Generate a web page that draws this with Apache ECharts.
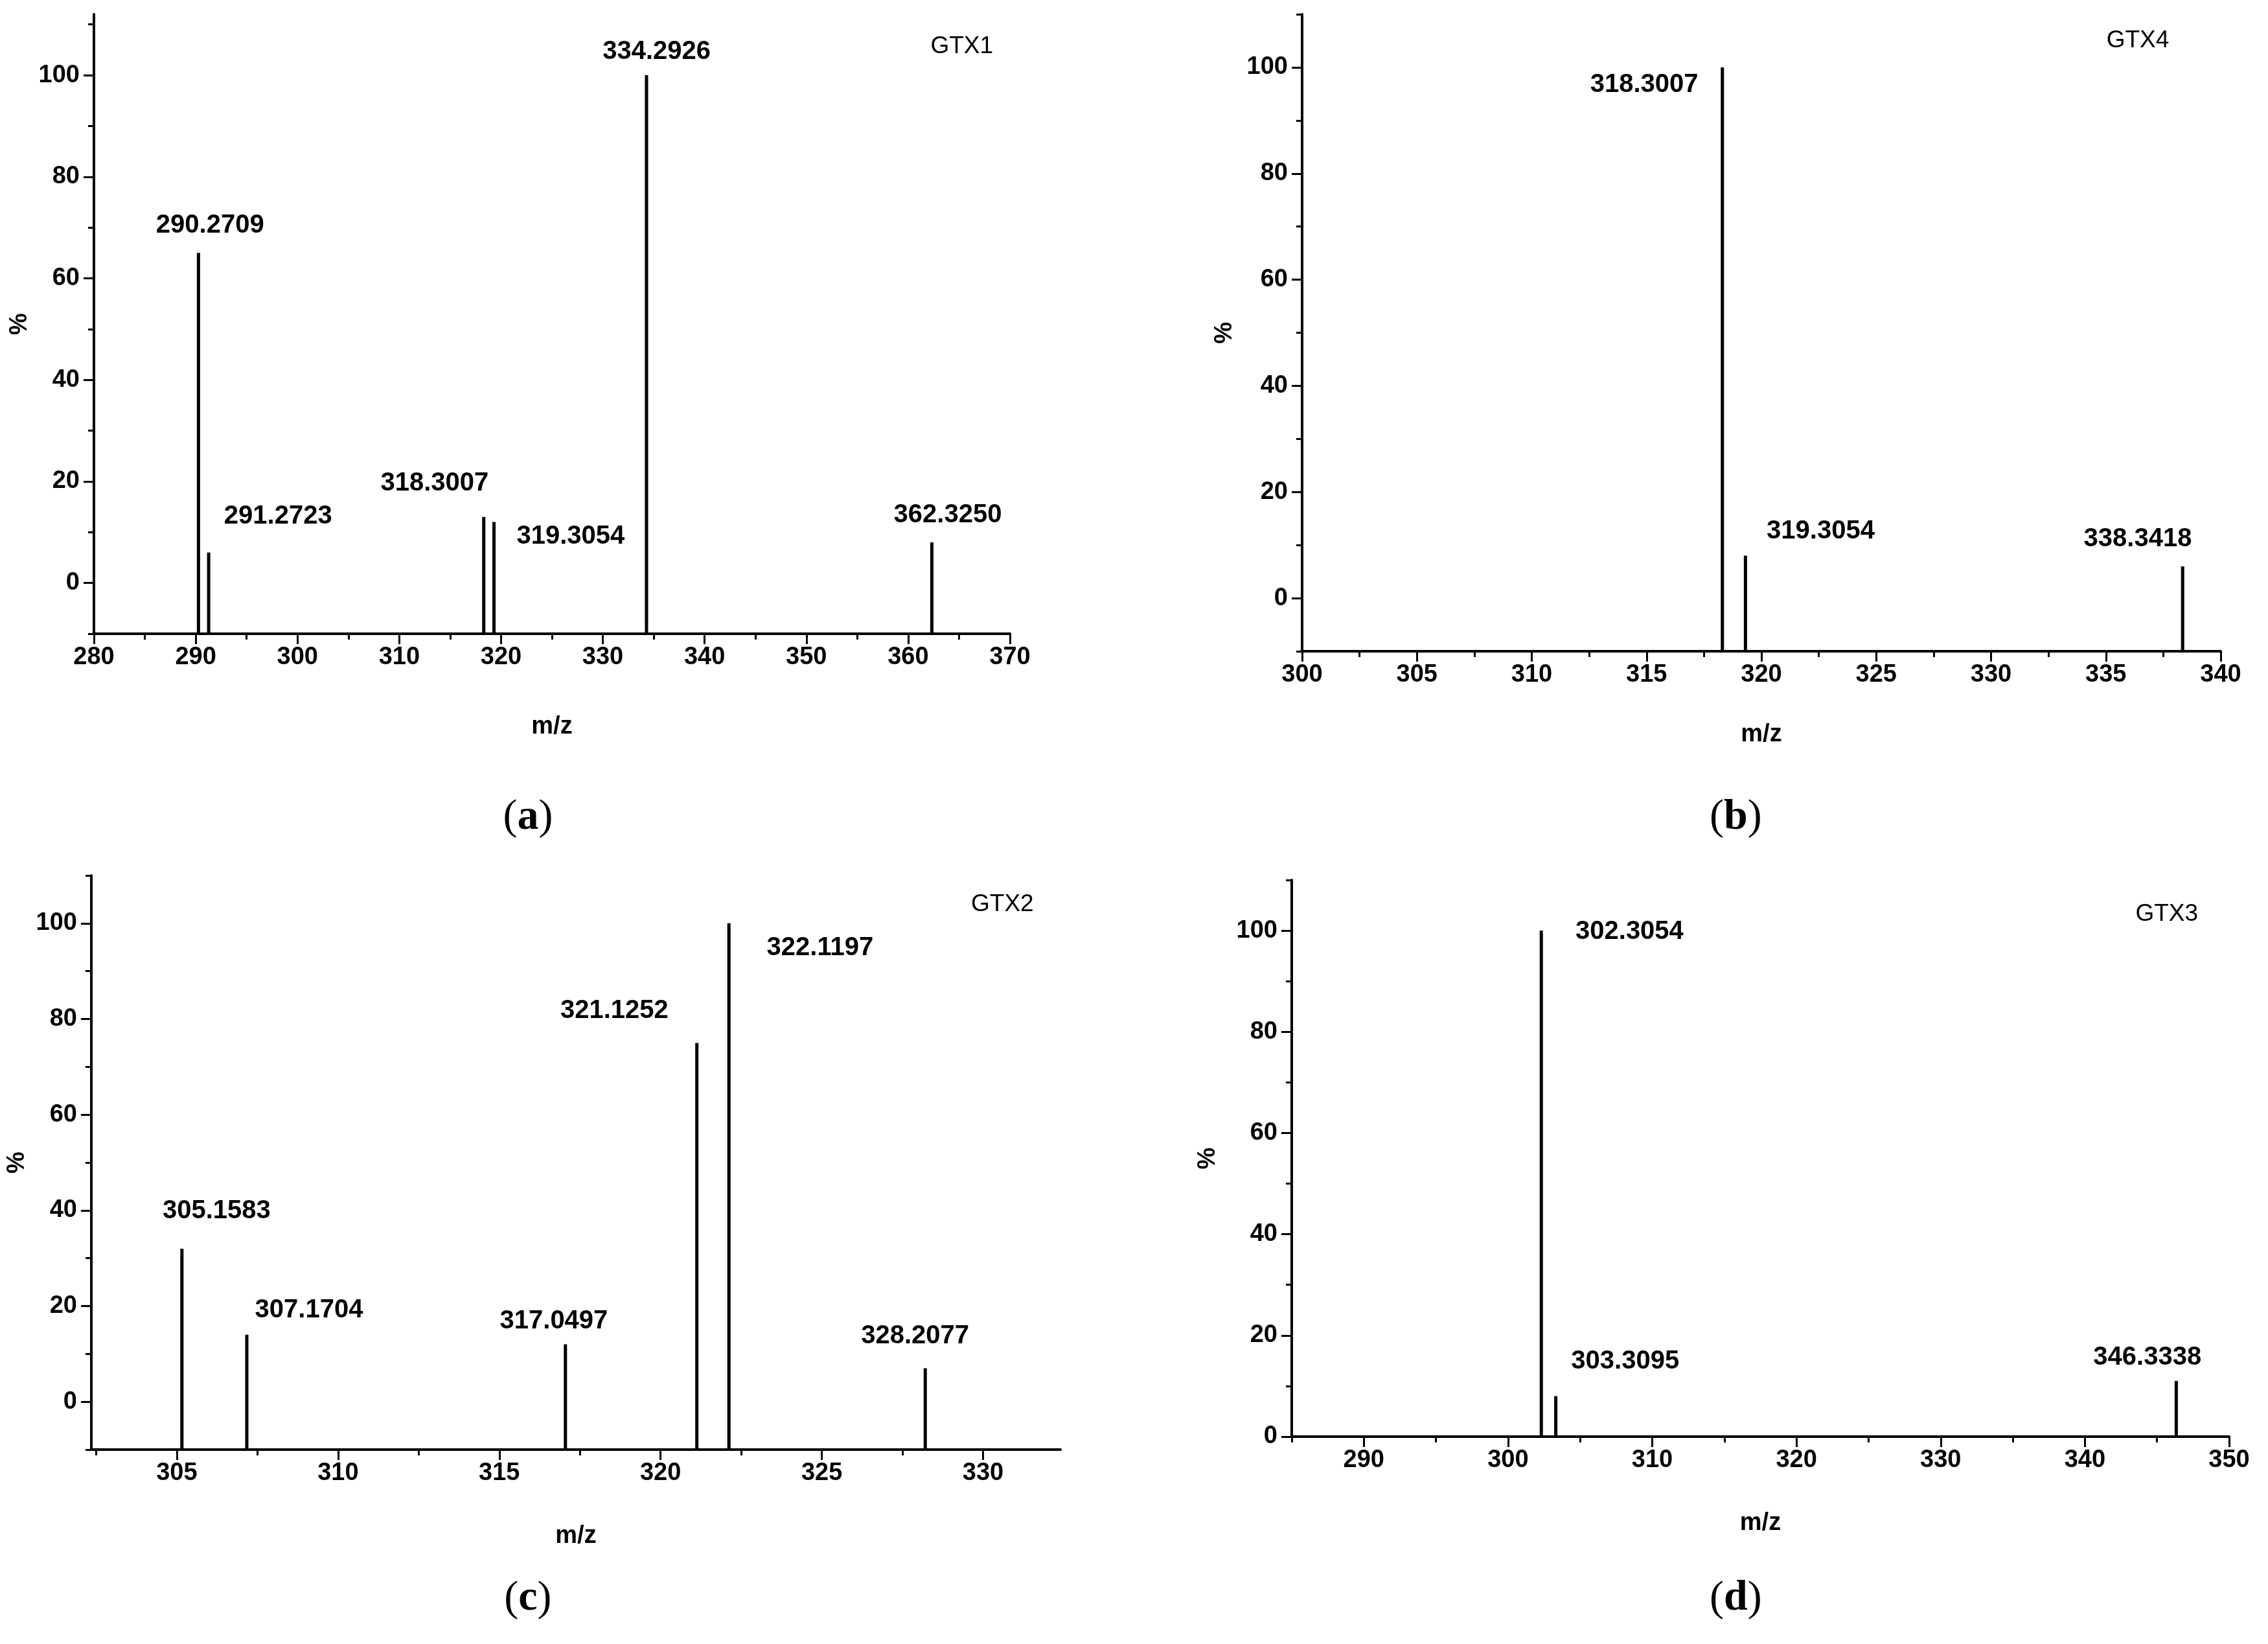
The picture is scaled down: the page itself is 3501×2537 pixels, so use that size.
<!DOCTYPE html>
<html><head><meta charset="utf-8">
<script src="https://cdn.jsdelivr.net/npm/echarts@6/dist/echarts.min.js"></script>
<style>html,body{margin:0;padding:0;background:#fff}#c{width:3501px;height:2537px}</style>
</head><body><div id="c"></div>
<script>
// ---- data ----
const mzA = [290.2709, 291.2723, 318.3007, 319.3054, 334.2926, 362.3250];
const intA = [65, 6, 13, 12, 100, 8];
const mzB = [318.3007, 319.3054, 338.3418];
const intB = [100, 8, 6];
const mzC = [305.1583, 307.1704, 317.0497, 321.1252, 322.1197, 328.2077];
const intC = [32, 14, 12, 75, 100, 7];
const mzD = [302.3054, 303.3095, 346.3338];
const intD = [100, 8, 11];
const titles = ['GTX1', 'GTX4', 'GTX2', 'GTX3'];
const captions = ['a', 'b', 'c', 'd'];
const xTicksA = [280, 290, 300, 310, 320, 330, 340, 350, 360, 370];
const xTicksB = [300, 305, 310, 315, 320, 325, 330, 335, 340];
const xTicksC = [305, 310, 315, 320, 325, 330];
const xTicksD = [290, 300, 310, 320, 330, 340, 350];
const yTicks = [0, 20, 40, 60, 80, 100];

// ---- styling / layout ----
const S = 3501 / 1568;
const FONT = 'Liberation Sans, Arial, sans-serif';
const labelOffsets = [
  [[8,-19],[48,-25],[-34,-23],[53,10],[7,-16],[11,-19]],
  [[-54,12],[52,-17],[-31,-19]],
  [[24,-26],[43,-17],[-8,-16],[-57,-22],[63,17],[-7,-22]],
  [[61,1],[48,-24],[-20,-16]]
];
const panels = [
  {grid:{left:145,top:22,width:1414,height:956}, x:{min:280,max:370,major:xTicksA,step:5}, y:{min:-10,max:112}, mz:mzA, it:intA, title:[665,32], cap:[365,565], ng:[125,95]},
  {grid:{left:2010,top:22,width:1418,height:983}, x:{min:300,max:340,major:xTicksB,step:2.5}, y:{min:-10,max:110}, mz:mzB, it:intB, title:[1478,28], cap:[1200,565], ng:[110,100]},
  {grid:{left:141,top:1351,width:1496,height:886}, x:{min:302.35,max:332.4,major:xTicksC,step:2.5}, y:{min:-10,max:110}, mz:mzC, it:intC, title:[693,625], cap:[365,1105], ng:[115,95]},
  {grid:{left:1994,top:1358,width:1447,height:859}, x:{min:285,max:350,major:xTicksD,step:5}, y:{min:0,max:110}, mz:mzD, it:intD, title:[1498,632], cap:[1200,1105], ng:[115,110]}
];

function minorVals(min, max, major, step) {
  const out = [];
  for (let v = major[0] - step; v >= min - 1e-9; v -= 2 * step) out.push(+v.toFixed(4));
  for (let v = major[0] + step; v <= max + 1e-9; v += 2 * step) out.push(+v.toFixed(4));
  return out;
}

const grids = [], xAxis = [], yAxis = [], series = [], graphic = [];
const lineStyle = {color:'#000', width:4};
panels.forEach((p, i) => {
  grids.push(p.grid);
  const xMinor = minorVals(p.x.min, p.x.max, p.x.major, p.x.step);
  const yMinor = minorVals(p.y.min, p.y.max, yTicks, 10);
  xAxis.push({type:'value', gridIndex:i, min:p.x.min, max:p.x.max, position:'bottom',
    name:'m/z', nameLocation:'middle', nameGap:p.ng[0],
    nameTextStyle:{fontFamily:FONT, fontWeight:'bold', fontSize:38, color:'#000'},
    axisLine:{show:true, onZero:false, lineStyle},
    axisTick:{show:true, customValues:p.x.major, length:16, lineStyle:{color:'#000', width:3}},
    axisLabel:{customValues:p.x.major, fontFamily:FONT, fontWeight:'bold', fontSize:38, color:'#000', margin:18},
    splitLine:{show:false}});
  xAxis.push({type:'value', gridIndex:i, min:p.x.min, max:p.x.max, position:'bottom',
    axisLine:{show:false, onZero:false},
    axisTick:{show:true, customValues:xMinor, length:9, lineStyle:{color:'#000', width:3}},
    axisLabel:{show:false}, splitLine:{show:false}});
  yAxis.push({type:'value', gridIndex:i, min:p.y.min, max:p.y.max, position:'left',
    name:'%', nameLocation:'middle', nameGap:p.ng[1],
    nameTextStyle:{fontFamily:FONT, fontWeight:'bold', fontSize:38, color:'#000'},
    axisLine:{show:true, onZero:false, lineStyle},
    axisTick:{show:true, customValues:yTicks, length:16, lineStyle:{color:'#000', width:3}},
    axisLabel:{customValues:yTicks, fontFamily:FONT, fontWeight:'bold', fontSize:38, color:'#000', margin:22},
    splitLine:{show:false}});
  yAxis.push({type:'value', gridIndex:i, min:p.y.min, max:p.y.max, position:'left',
    axisLine:{show:false, onZero:false},
    axisTick:{show:true, customValues:yMinor, length:9, lineStyle:{color:'#000', width:3}},
    axisLabel:{show:false}, splitLine:{show:false}});
  const ymin = p.y.min;
  series.push({type:'custom', xAxisIndex:2*i, yAxisIndex:2*i, clip:false,
    data:p.mz.map((m, k) => [m, p.it[k], k]),
    encode:{x:0, y:1},
    renderItem:(params, api) => {
      const x = api.value(0), y = api.value(1), k = api.value(2);
      const p0 = api.coord([x, ymin]), p1 = api.coord([x, y]);
      const off = labelOffsets[i][k];
      return {type:'group', children:[
        {type:'line', shape:{x1:p0[0], y1:p0[1], x2:p1[0], y2:p1[1]}, style:{stroke:'#000', lineWidth:5}},
        {type:'text', x:p1[0] + off[0] * S, y:p1[1] + off[1] * S,
          style:{text:p.mz[k].toFixed(4), fill:'#000', font:'bold 40px ' + FONT, align:'center', verticalAlign:'middle'}}
      ]};
    }});
  graphic.push({type:'text', x:p.title[0] * S, y:p.title[1] * S,
    style:{text:titles[i], fill:'#000', font:'37px ' + FONT, align:'center', verticalAlign:'middle'}});
  graphic.push({type:'text', x:p.cap[0] * S, y:p.cap[1] * S,
    style:{text:'{n|(}{b|' + captions[i] + '}{n|)}', align:'center', verticalAlign:'middle',
      rich:{n:{font:'66px Liberation Serif, serif', fill:'#000'}, b:{font:'bold 66px Liberation Serif, serif', fill:'#000'}}}});
});

const chart = echarts.init(document.getElementById('c'));
chart.setOption({backgroundColor:'#fff', animation:false, grid:grids, xAxis, yAxis, series, graphic});
</script></body></html>
